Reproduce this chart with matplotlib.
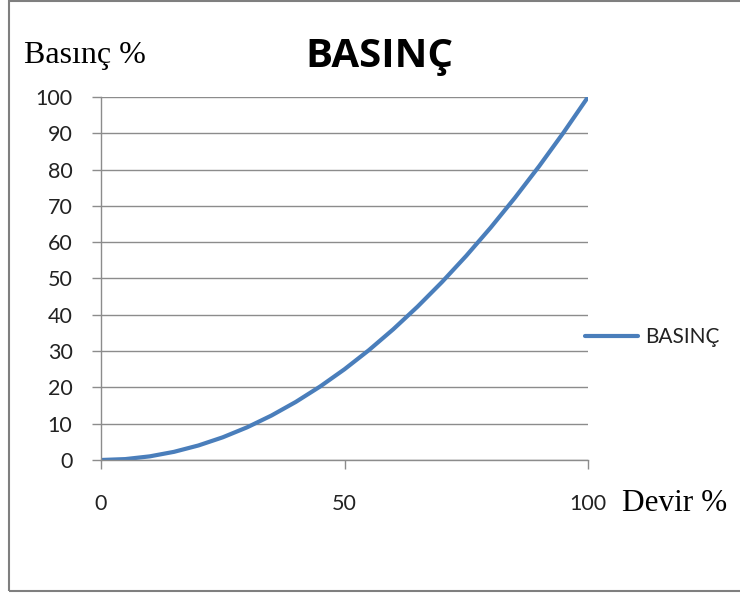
import matplotlib.pyplot as plt
from matplotlib.patches import Rectangle

devir = [0, 5, 10, 15, 20, 25, 30, 35, 40, 45, 50,
         55, 60, 65, 70, 75, 80, 85, 90, 95, 100]
basinc = [0, 0.25, 1, 2.25, 4, 6.25, 9, 12.25, 16, 20.25, 25,
          30.25, 36, 42.25, 49, 56.25, 64, 72.25, 81, 90.25, 100]

x_ticks = [0, 50, 100]
y_ticks = [0, 10, 20, 30, 40, 50, 60, 70, 80, 90, 100]

blue = '#4a7ebb'
grid = '#8c8c8c'

fig = plt.figure(figsize=(7.4, 5.94), dpi=100)
ax = fig.add_axes([0.1365, 0.2256, 0.6581, 0.6111])

ax.plot(devir, basinc, color=blue, linewidth=3, solid_capstyle='round', label='BASINÇ')

ax.set_xlim(0, 100)
ax.set_ylim(0, 100)
ax.set_xticks(x_ticks)
ax.set_yticks(y_ticks)
ax.grid(axis='y', color=grid, linewidth=1)
ax.set_axisbelow(True)

for s in ['top', 'right']:
    ax.spines[s].set_visible(False)
for s in ['left', 'bottom']:
    ax.spines[s].set_color(grid)
    ax.spines[s].set_linewidth(1)

ax.tick_params(axis='y', length=6.5, width=1, color=grid, pad=14,
               labelsize=15.5, labelcolor='#222222')
ax.tick_params(axis='x', length=6.5, width=1, color=grid, pad=18,
               labelsize=15.5, labelcolor='#222222')
for lbl in ax.get_xticklabels() + ax.get_yticklabels():
    lbl.set_fontfamily('Lato')

leg = ax.legend(loc='center left', bbox_to_anchor=(0.994, 0.339), frameon=False,
                borderaxespad=0, borderpad=0,
                handlelength=2.55, handletextpad=0.35,
                prop={'family': 'Lato', 'size': 15})
for t in leg.get_texts():
    t.set_color('#222222')

fig.text(0.513, 0.887, 'BASINÇ', ha='center', va='baseline',
         fontsize=29, fontweight='bold', family='Open Sans')
fig.text(0.032, 0.894, 'Basınç %', ha='left', va='baseline',
         fontsize=23, family='Liberation Serif')
fig.text(0.84, 0.140, 'Devir %', ha='left', va='baseline',
         fontsize=22.5, family='Liberation Serif')

# outer frame of the chart area
fig.patches.append(Rectangle((0.012, 0.005), 1.2, 0.993, transform=fig.transFigure,
                             fill=False, edgecolor='#7f7f7f', linewidth=1.5))

fig.savefig('out.png', dpi=100)
